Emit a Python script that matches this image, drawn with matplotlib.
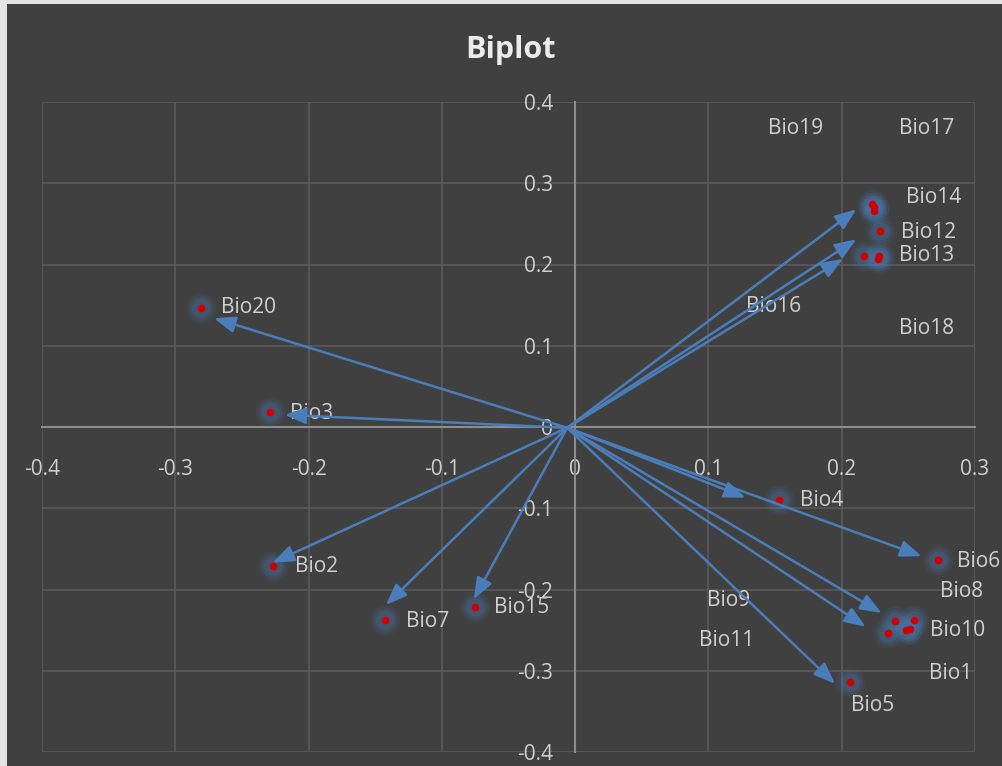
import matplotlib.pyplot as plt
from matplotlib.patches import Rectangle

plt.rcParams['font.family'] = ['Open Sans', 'DejaVu Sans']

# scores for each bioclimatic variable
variables = ['Bio1', 'Bio2', 'Bio3', 'Bio4', 'Bio5', 'Bio6', 'Bio7', 'Bio8', 'Bio9', 'Bio10',
             'Bio11', 'Bio12', 'Bio13', 'Bio14', 'Bio15', 'Bio16', 'Bio17', 'Bio18', 'Bio19', 'Bio20']
score_x = [0.248, -0.227, -0.229, 0.153, 0.206, 0.272, -0.143, 0.254, 0.240, 0.251,
           0.235, 0.229, 0.228, 0.224, -0.075, 0.217, 0.224, 0.227, 0.223, -0.281]
score_y = [-0.250, -0.171, 0.019, -0.090, -0.314, -0.164, -0.238, -0.238, -0.239, -0.249,
           -0.254, 0.241, 0.211, 0.266, -0.222, 0.211, 0.271, 0.207, 0.275, 0.147]

# loading vectors
arrow_x = [-0.271, -0.218, -0.227, -0.142, -0.076, 0.128, 0.260, 0.195, 0.230, 0.218, 0.211, 0.211, 0.201]
arrow_y = [0.134, 0.015, -0.167, -0.219, -0.212, -0.087, -0.159, -0.316, -0.229, -0.246, 0.268, 0.231, 0.207]
origen = (-0.006, -0.001)

# posiciones de las etiquetas (movidas a mano)
label_pos = {
    'Bio1': (0.282, -0.303), 'Bio2': (-0.194, -0.172), 'Bio3': (-0.198, 0.017),
    'Bio4': (0.185, -0.091), 'Bio5': (0.223, -0.343), 'Bio6': (0.303, -0.165),
    'Bio7': (-0.111, -0.239), 'Bio8': (0.290, -0.203), 'Bio9': (0.115, -0.214),
    'Bio10': (0.287, -0.251), 'Bio11': (0.114, -0.263), 'Bio12': (0.265, 0.240),
    'Bio13': (0.264, 0.211), 'Bio14': (0.269, 0.283), 'Bio15': (-0.040, -0.222),
    'Bio16': (0.149, 0.148), 'Bio17': (0.264, 0.368), 'Bio18': (0.264, 0.121),
    'Bio19': (0.165, 0.368), 'Bio20': (-0.245, 0.147),
}

fondo = '#404040'
azul = '#4a7ebb'
texto = '#d0d0d0'

fig = plt.figure(figsize=(10.03, 7.66), dpi=100, facecolor='#e4e4e4')
fig.patches.append(Rectangle((7 / 1003, 0), 1, 1 - 4 / 766, transform=fig.transFigure,
                             facecolor=fondo, edgecolor='none', zorder=-10))

ax = fig.add_axes([42 / 1003, 14 / 766, 933 / 1003, 650 / 766])
ax.set_zorder(1)
ax.set_facecolor(fondo)
ax.set_xlim(-0.4, 0.3)
ax.set_ylim(-0.4, 0.4)
ax.set_xticks([-0.4, -0.3, -0.2, -0.1, 0, 0.1, 0.2, 0.3])
ax.set_yticks([-0.4, -0.3, -0.2, -0.1, 0, 0.1, 0.2, 0.3, 0.4])
ax.set_xticklabels(['-0.4', '-0.3', '-0.2', '-0.1', '0', '0.1', '0.2', '0.3'])
ax.set_yticklabels(['-0.4', '-0.3', '-0.2', '-0.1', '0', '0.1', '0.2', '0.3', '0.4'])
ax.grid(True, color='#5a5a5a', lw=1.2, zorder=0)
ax.set_axisbelow(True)

for s in ['top', 'right']:
    ax.spines[s].set_visible(False)
ax.spines['left'].set_position('zero')
ax.spines['bottom'].set_position('zero')
for s in ['left', 'bottom']:
    ax.spines[s].set_color('#8c8c8c')
    ax.spines[s].set_linewidth(1.5)
    ax.spines[s].set_zorder(1)
ax.tick_params(axis='x', length=0, pad=23, labelsize=15, labelcolor=texto)
ax.tick_params(axis='y', length=0, pad=16, labelsize=15, labelcolor=texto)

# halo azul y punto rojo
for tam, alfa in [(460, 0.10), (300, 0.14), (180, 0.20)]:
    ax.scatter(score_x, score_y, s=tam, color=azul, alpha=alfa, lw=0, zorder=3)
ax.scatter(score_x, score_y, s=30, color='#d00000', lw=0, zorder=4)

for v in variables:
    lx, ly = label_pos[v]
    ax.text(lx, ly, v, color=texto, fontsize=15, ha='center', va='center',
            zorder=5, clip_on=False)

for x, y in zip(arrow_x, arrow_y):
    ax.annotate('', xy=(x, y), xytext=origen,
                arrowprops=dict(arrowstyle='-|>,head_length=13,head_width=5', mutation_scale=1,
                                color=azul, lw=1.8, shrinkA=0, shrinkB=0),
                zorder=6)

fig.text(511 / 1003, 1 - 50 / 766, 'Biplot', color='#ececec', fontsize=22,
         fontweight='bold', ha='center', va='center')

plt.savefig('out.png', dpi=100, facecolor=fig.get_facecolor())
